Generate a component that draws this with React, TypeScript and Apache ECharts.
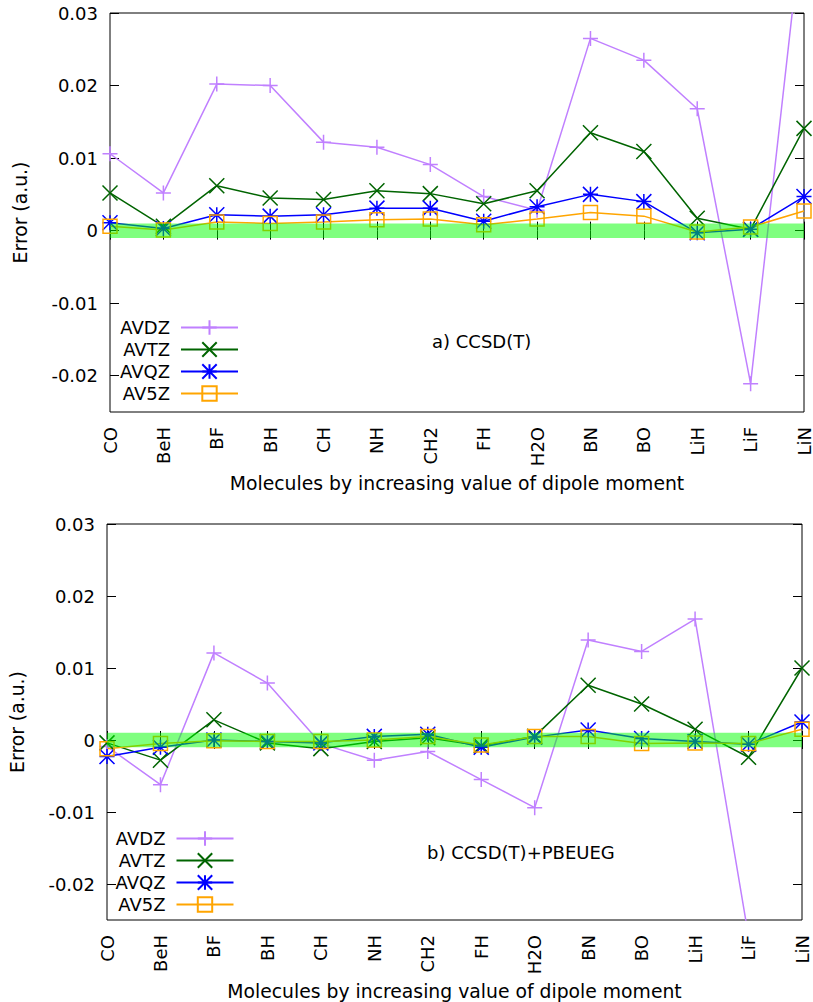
import React, { useEffect, useRef } from 'react';
import * as echarts from 'echarts';

// ---------- data ----------
const molecules = ['CO', 'BeH', 'BF', 'BH', 'CH', 'NH', 'CH2', 'FH', 'H2O', 'BN', 'BO', 'LiH', 'LiF', 'LiN'];
const seriesNames = ['AVDZ', 'AVTZ', 'AVQZ', 'AV5Z'];

// a) CCSD(T)
const ccsdtAVDZ = [0.0106, 0.0052, 0.0202, 0.0200, 0.0122, 0.0115, 0.0091, 0.0047, 0.0028, 0.0265, 0.0235, 0.0168, -0.0211, 0.0445];
const ccsdtAVTZ = [0.0052, 0.0006, 0.0062, 0.0045, 0.0043, 0.0055, 0.0051, 0.0037, 0.0055, 0.0135, 0.0109, 0.0017, 0.0002, 0.0141];
const ccsdtAVQZ = [0.0011, 0.0003, 0.0022, 0.0020, 0.0022, 0.0031, 0.0031, 0.0013, 0.0033, 0.0050, 0.0040, -0.0003, 0.0002, 0.0047];
const ccsdtAV5Z = [0.0006, 0.0001, 0.0012, 0.0010, 0.0012, 0.0015, 0.0016, 0.0008, 0.0016, 0.0025, 0.0020, -0.0002, 0.0005, 0.0027];

// b) CCSD(T)+PBEUEG
const pbeAVDZ = [-0.0009, -0.0062, 0.0121, 0.0079, -0.0005, -0.0028, -0.0016, -0.0055, -0.0094, 0.0139, 0.0123, 0.0168, -0.0273, null];
const pbeAVTZ = [-0.0004, -0.0028, 0.0028, -0.0004, -0.0012, -0.0002, 0.0003, -0.0008, 0.0005, 0.0076, 0.0050, 0.0015, -0.0024, 0.0100];
const pbeAVQZ = [-0.0023, -0.0010, 0.0000, -0.0002, -0.0004, 0.0005, 0.0008, -0.0010, 0.0004, 0.0014, 0.0002, -0.0002, -0.0006, 0.0025];
const pbeAV5Z = [-0.0012, -0.0005, -0.0001, -0.0002, -0.0002, 0.0000, 0.0005, -0.0007, 0.0005, 0.0005, -0.0005, -0.0004, -0.0005, 0.0015];

const yTicks = [-0.02, -0.01, 0, 0.01, 0.02, 0.03];
const yMin = -0.025;
const yMax = 0.03;
const bandLow = -0.001;
const bandHigh = 0.001;
const panelTitles = ['a) CCSD(T)', 'b) CCSD(T)+PBEUEG'];
const xTitle = 'Molecules by increasing value of dipole moment';
const yTitle = 'Error (a.u.)';

// ---------- styles ----------
const FONT = 'DejaVu Sans';
const FS = 18;
const FS_TITLE = 18.8;
const colors = ['#c080ff', '#006400', '#0000ff', '#ffa500'];
const symbols = [
  'path://M1,0L1,2M0,1L2,1',
  'path://M0,0L2,2M0,2L2,0',
  'path://M1,0L1,2M0,1L2,1M0,0L2,2M0,2L2,0',
  'path://M0,0L2,0L2,2L0,2Z',
];
const symbolSizes = [15, 15, 15, 14];

const panels = [
  { data: [ccsdtAVDZ, ccsdtAVTZ, ccsdtAVQZ, ccsdtAV5Z], grid: { left: 110, top: 13, width: 697, height: 399 }, legendRight: 574, legendTop: 318.5, title: { x: 432, y: 341 } },
  { data: [pbeAVDZ, pbeAVTZ, pbeAVQZ, pbeAV5Z], grid: { left: 106, top: 524, width: 696, height: 399 }, legendRight: 578.5, legendTop: 829.5, title: { x: 427, y: 852 } },
];

export default function App() {
  const ref = useRef<HTMLDivElement>(null);

  useEffect(() => {
    if (!ref.current) return;
    const chart = echarts.init(ref.current, undefined, { renderer: 'svg' });

    const textBase = { color: '#000', fontFamily: FONT, fontSize: FS };
    const titleText = { color: '#000', fontFamily: FONT, fontSize: FS_TITLE };
    const grids: any[] = [];
    const xAxes: any[] = [];
    const yAxes: any[] = [];
    const series: any[] = [];
    const legends: any[] = [];
    const graphics: any[] = [];

    panels.forEach((p, i) => {
      grids.push({ ...p.grid, show: true, borderColor: '#000', borderWidth: 1, backgroundColor: 'transparent', containLabel: false });
      xAxes.push({
        type: 'category', gridIndex: i, data: molecules, boundaryGap: false, position: 'bottom',
        axisLine: { show: false },
        axisTick: { show: true, inside: true, length: 9, interval: 0, lineStyle: { color: '#000', width: 1 } },
        axisLabel: { ...textBase, rotate: 90, interval: 0, margin: 15 },
        splitLine: { show: false },
        name: xTitle, nameLocation: 'middle', nameGap: 62, nameTextStyle: titleText,
      });
      xAxes.push({
        type: 'category', gridIndex: i, data: molecules, boundaryGap: false, position: 'top',
        axisLine: { show: false },
        axisTick: { show: true, inside: true, length: 9, interval: 0, lineStyle: { color: '#000', width: 1 } },
        axisLabel: { show: false }, splitLine: { show: false },
      });
      yAxes.push({
        type: 'value', gridIndex: i, min: yMin, max: yMax, position: 'left',
        axisLine: { show: false },
        axisTick: { show: true, inside: true, length: 9, customValues: yTicks, lineStyle: { color: '#000', width: 1 } },
        axisLabel: { ...textBase, margin: 12, customValues: yTicks, formatter: (v: number) => String(+v.toFixed(4)) },
        splitLine: { show: false },
        name: yTitle, nameLocation: 'middle', nameGap: 80, nameRotate: 90, nameTextStyle: titleText,
      });
      yAxes.push({
        type: 'value', gridIndex: i, min: yMin, max: yMax, position: 'right',
        axisLine: { show: false },
        axisTick: { show: true, inside: true, length: 9, customValues: yTicks, lineStyle: { color: '#000', width: 1 } },
        axisLabel: { show: false }, splitLine: { show: false },
      });

      p.data.forEach((vals, j) => {
        const s: any = {
          type: 'line', name: seriesNames[j], xAxisIndex: 2 * i, yAxisIndex: 2 * i,
          data: vals, symbol: symbols[j], symbolSize: symbolSizes[j], showSymbol: true,
          color: colors[j], clip: true, connectNulls: false,
          lineStyle: { color: colors[j], width: 1.5 },
          itemStyle: { color: 'transparent', borderColor: colors[j], borderWidth: 1.5 },
          emphasis: { disabled: true },
        };
        if (j === 3) {
          s.markArea = {
            silent: true, z: 10,
            itemStyle: { color: 'rgba(0,255,0,0.5)', borderWidth: 0 },
            label: { show: false },
            data: [[{ yAxis: bandLow }, { yAxis: bandHigh }]],
          };
        }
        series.push(s);
      });

      legends.push({
        data: seriesNames, orient: 'vertical', align: 'right', right: p.legendRight, top: p.legendTop,
        itemWidth: 57, itemHeight: 18, itemGap: 4, padding: 0, selectedMode: false,
        textStyle: { ...textBase, padding: [0, 6, 0, 0] },
      });

      graphics.push({
        type: 'text', x: p.title.x, y: p.title.y,
        style: { text: panelTitles[i], fill: '#000', fontFamily: FONT, fontSize: FS, align: 'left', verticalAlign: 'middle' },
      });
    });

    chart.setOption({
      animation: false,
      textStyle: { fontFamily: FONT },
      grid: grids,
      xAxis: xAxes,
      yAxis: yAxes,
      legend: legends,
      series,
      graphic: graphics,
    });

    return () => chart.dispose();
  }, []);

  return <div ref={ref} style={{ position: 'absolute', left: 0, top: 0, width: 813, height: 1002, background: '#fff' }} />;
}
